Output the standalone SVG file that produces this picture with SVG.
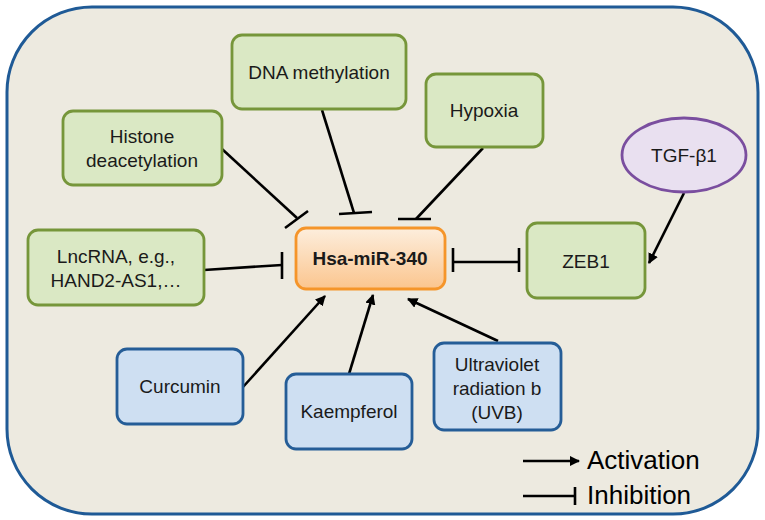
<svg xmlns="http://www.w3.org/2000/svg" width="765" height="520" viewBox="0 0 765 520">
<defs>
<style>
.g{fill:#dae8c4;stroke:#76963a;stroke-width:2.8}
.b{fill:#cedff2;stroke:#255d97;stroke-width:2.8}
.t{font-family:"Liberation Sans",Arial,sans-serif;font-size:19px;fill:#1a1a1a;text-anchor:middle}
.c{stroke:#000;stroke-width:2.6;fill:none}
.lg{font-family:"Liberation Sans",Arial,sans-serif;font-size:26px;fill:#000}
</style>
<linearGradient id="og" x1="0" y1="0" x2="0" y2="1">
<stop offset="0" stop-color="#fdeedd"/>
<stop offset="1" stop-color="#fbc58e"/>
</linearGradient>
<marker id="ar" viewBox="0 0 10 10" refX="9" refY="5" markerWidth="4" markerHeight="4" orient="auto" markerUnits="strokeWidth">
<path d="M0,0 L10,5 L0,10 z" fill="#000"/>
</marker>
</defs>
<rect x="0" y="0" width="765" height="520" fill="#fff"/>
<rect id="frame" x="7" y="7" width="751" height="507" rx="85" ry="85" fill="#edeae0" stroke="#1f5a96" stroke-width="3"/>

<g id="connectors">
<line class="c" x1="222" y1="149" x2="297" y2="218"/>
<line class="c" x1="285" y1="228" x2="308" y2="211"/>
<line class="c" x1="322" y1="110" x2="354" y2="213"/>
<line class="c" x1="339" y1="214" x2="372" y2="212"/>
<line class="c" x1="483" y1="148" x2="416" y2="219"/>
<line class="c" x1="398" y1="219" x2="431" y2="219"/>
<line class="c" x1="204" y1="270" x2="282" y2="265"/>
<line class="c" x1="282" y1="252" x2="282" y2="279"/>
<line class="c" x1="453" y1="262" x2="519" y2="262"/>
<line class="c" x1="453" y1="248" x2="453" y2="272"/>
<line class="c" x1="519" y1="248" x2="519" y2="272"/>
<line class="c" x1="684" y1="193" x2="649" y2="263" marker-end="url(#ar)"/>
<line class="c" x1="243" y1="387" x2="325" y2="296" marker-end="url(#ar)"/>
<line class="c" x1="349" y1="374" x2="373" y2="295" marker-end="url(#ar)"/>
<line class="c" x1="498" y1="341" x2="408" y2="299" marker-end="url(#ar)"/>
</g>

<g id="dna"><rect class="g" x="232" y="35" width="174" height="74" rx="10"/><text class="t" x="319" y="79">DNA methylation</text></g>
<g id="hypoxia"><rect class="g" x="426" y="74" width="117" height="73" rx="10"/><text class="t" x="484" y="117">Hypoxia</text></g>
<g id="histone"><rect class="g" x="63" y="111" width="159" height="74" rx="10"/><text class="t" x="142" y="143">Histone</text><text class="t" x="142" y="167">deacetylation</text></g>
<g id="tgf"><ellipse cx="684" cy="155" rx="62" ry="37" fill="#e9e0f0" stroke="#7a4e9f" stroke-width="2.8"/><text class="t" x="684" y="162">TGF-β1</text></g>
<g id="lncrna"><rect class="g" x="28" y="230" width="176" height="75" rx="10"/><text class="t" x="116" y="263">LncRNA, e.g.,</text><text class="t" x="116" y="287">HAND2-AS1,…</text></g>
<g id="mir"><rect x="296" y="228" width="149" height="61" rx="10" fill="url(#og)" stroke="#f5952a" stroke-width="2.8"/><text class="t" x="370" y="265" font-weight="bold">Hsa-miR-340</text></g>
<g id="zeb1"><rect class="g" x="527" y="223" width="118" height="75" rx="10"/><text class="t" x="586" y="268">ZEB1</text></g>
<g id="curcumin"><rect class="b" x="117" y="349" width="126" height="75" rx="10"/><text class="t" x="180" y="393">Curcumin</text></g>
<g id="kaempferol"><rect class="b" x="286" y="374" width="126" height="75" rx="10"/><text class="t" x="349" y="418">Kaempferol</text></g>
<g id="uvb"><rect class="b" x="434" y="343" width="127" height="87" rx="10"/><text class="t" x="497" y="371">Ultraviolet</text><text class="t" x="497" y="395">radiation b</text><text class="t" x="497" y="419">(UVB)</text></g>

<g id="legend">
<line class="c" x1="523" y1="461" x2="579" y2="461" marker-end="url(#ar)"/>
<text class="lg" x="587" y="469">Activation</text>
<line class="c" x1="523" y1="496" x2="575" y2="496"/>
<line class="c" x1="575" y1="487" x2="575" y2="505"/>
<text class="lg" x="587" y="504">Inhibition</text>
</g>
</svg>
